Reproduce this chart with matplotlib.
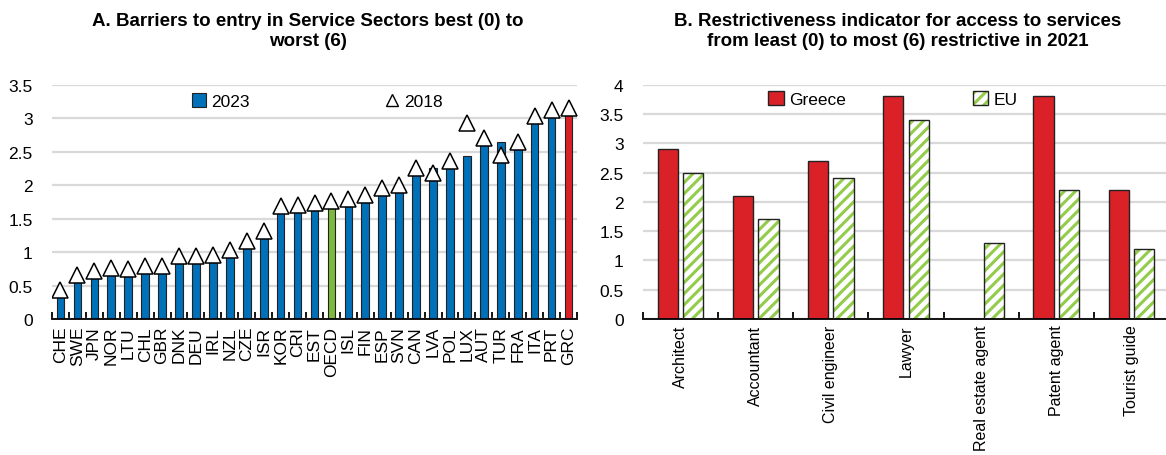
import numpy as np
import matplotlib
matplotlib.use('Agg')
import matplotlib.pyplot as plt
from matplotlib.patches import Patch
from matplotlib.lines import Line2D
from matplotlib.legend_handler import HandlerTuple

# Panel A data
countries = ["CHE", "SWE", "JPN", "NOR", "LTU", "CHL", "GBR", "DNK", "DEU", "IRL",
             "NZL", "CZE", "ISR", "KOR", "CRI", "EST", "OECD", "ISL", "FIN", "ESP",
             "SVN", "CAN", "LVA", "POL", "LUX", "AUT", "TUR", "FRA", "ITA", "PRT", "GRC"]
val_2023 = [0.33, 0.56, 0.61, 0.66, 0.65, 0.70, 0.70, 0.85, 0.85, 0.86,
            0.93, 1.06, 1.23, 1.59, 1.62, 1.63, 1.68, 1.70, 1.75, 1.86,
            1.91, 2.17, 2.26, 2.27, 2.44, 2.60, 2.64, 2.55, 2.94, 3.02, 3.05]
val_2018 = [0.43, 0.66, 0.71, 0.76, 0.75, 0.79, 0.79, 0.94, 0.94, 0.95,
            1.03, 1.16, 1.32, 1.69, 1.71, 1.73, 1.77, 1.79, 1.85, 1.95,
            2.00, 2.26, 2.18, 2.36, 2.93, 2.70, 2.45, 2.64, 3.03, 3.12, 3.15]

# Panel B data
professions = ["Architect", "Accountant", "Civil engineer", "Lawyer",
               "Real estate agent", "Patent agent", "Tourist guide"]
greece = [2.9, 2.1, 2.7, 3.8, np.nan, 3.8, 2.2]
eu = [2.5, 1.7, 2.4, 3.4, 1.3, 2.2, 1.2]

blue = "#0070B8"
green_bar = "#7DB93A"
red = "#DA2128"
stripe = "#92CC4A"
grid_c = "#D9D9D9"

plt.rcParams['font.family'] = ['Liberation Sans', 'DejaVu Sans']
plt.rcParams['hatch.linewidth'] = 2.2

W, H = 1166, 456
fig = plt.figure(figsize=(W / 100, H / 100), dpi=100)

y0, ytop = 320, 85.7
axA = fig.add_axes([52 / W, 1 - y0 / H, 525 / W, (y0 - ytop) / H])
axB = fig.add_axes([643 / W, 1 - y0 / H, 526 / W, (y0 - ytop) / H])


def style_axis(ax):
    for s in ["left", "right", "top"]:
        ax.spines[s].set_visible(False)
    ax.spines["bottom"].set_color("black")
    ax.spines["bottom"].set_linewidth(1.3)
    ax.yaxis.grid(True, color=grid_c, linewidth=1.6)
    ax.set_axisbelow(True)
    ax.tick_params(axis="y", length=0, labelsize=12.5, pad=14)
    ax.tick_params(axis="x", which="major", length=0)
    ax.tick_params(axis="x", which="minor", direction="in", length=5, width=1.3, color="black")


# ---- Panel A
x = np.arange(len(countries))
colsA = [blue] * len(countries)
colsA[countries.index("OECD")] = green_bar
colsA[countries.index("GRC")] = red
axA.bar(x, val_2023, width=0.45, color=colsA, edgecolor="#222222", linewidth=0.8, zorder=2)
axA.plot(x, val_2018, linestyle="none", marker="^", markersize=11,
         markerfacecolor="white", markeredgecolor="black", markeredgewidth=1.1, zorder=3)
axA.set_xlim(-0.5, len(countries) - 0.5)
axA.set_ylim(0, 3.5)
axA.set_yticks(np.arange(0, 3.51, 0.5))
axA.set_yticklabels(["0", "0.5", "1", "1.5", "2", "2.5", "3", "3.5"])
axA.set_xticks(x)
axA.set_xticklabels(countries, rotation=90, fontsize=12.5)
axA.set_xticks(np.arange(-0.5, len(countries), 1), minor=True)
style_axis(axA)
axA.tick_params(axis="x", which="major", pad=5)

hA = [Patch(facecolor=blue, edgecolor="#222222", linewidth=0.8),
      Line2D([], [], linestyle="none", marker="^", markersize=8,
             markerfacecolor="white", markeredgecolor="black", markeredgewidth=1)]
axA.legend(hA, ["2023", "2018"], ncol=2, frameon=False, loc="center",
           bbox_to_anchor=(0.505, 0.93), fontsize=12.5, columnspacing=7.8,
           handlelength=0.8, handleheight=0.8, handletextpad=0.3)

# ---- Panel B
xb = np.arange(len(professions))
off, bw = 0.17, 0.27
axB.bar(xb - off, greece, width=bw, color=red, edgecolor="#222222", linewidth=1.0, zorder=2)
axB.bar(xb + off, eu, width=bw, color="white", edgecolor=stripe, hatch="///", linewidth=0, zorder=2)
axB.bar(xb + off, eu, width=bw, fill=False, edgecolor="#222222", linewidth=1.0, zorder=3)
axB.set_xlim(-0.5, len(professions) - 0.5)
axB.set_ylim(0, 4)
axB.set_yticks(np.arange(0, 4.01, 0.5))
axB.set_yticklabels(["0", "0.5", "1", "1.5", "2", "2.5", "3", "3.5", "4"])
axB.set_xticks(xb)
axB.set_xticklabels(professions, rotation=90, fontsize=11.5)
axB.set_xticks(np.arange(-0.5, len(professions), 1), minor=True)
style_axis(axB)
axB.tick_params(axis="x", which="major", pad=4)

eu_handle = (Patch(facecolor="white", edgecolor=stripe, hatch="///", linewidth=0),
             Patch(fill=False, edgecolor="#222222", linewidth=1.0))
hB = [Patch(facecolor=red, edgecolor="#222222", linewidth=1.0), eu_handle]
axB.legend(hB, ["Greece", "EU"], ncol=2, frameon=False, loc="center",
           bbox_to_anchor=(0.475, 0.94), fontsize=12.5, columnspacing=7.3,
           handlelength=0.9, handleheight=0.9, handletextpad=0.3,
           handler_map={tuple: HandlerTuple(ndivide=1, pad=0)})

# ---- Titles
title_font = dict(fontsize=13.5, fontweight="bold", ha="center", va="top", linespacing=1.2)
fig.text(308 / W, 1 - 13 / H, "A. Barriers to entry in Service Sectors best (0) to\nworst (6)", **title_font)
fig.text(898 / W, 1 - 13 / H, "B. Restrictiveness indicator for access to services\nfrom least (0) to most (6) restrictive in 2021", **title_font)

fig.savefig("out.png", dpi=100)
